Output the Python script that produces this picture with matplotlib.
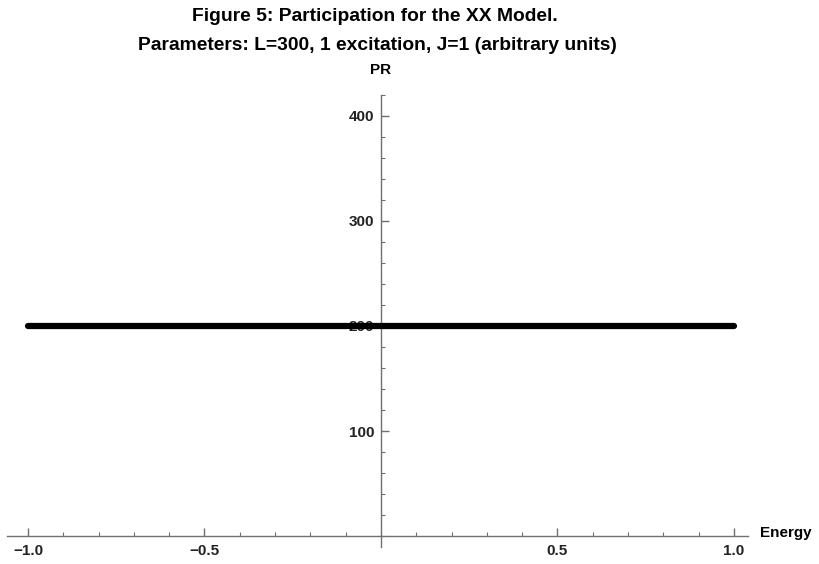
"""
Figure 5: participation ratio for the XX model, L=300, one excitation
"""

import matplotlib.pyplot as plt
from matplotlib.ticker import MultipleLocator

# ---- data ----
energy = [-1.0, 1.0]          # eigen-energies span the band [-1, 1]
pr = [200, 200]               # participation ratio, flat at ~200
x_ticks = [-1.0, -0.5, 0.5, 1.0]
x_tick_labels = ['\u22121.0', '\u22120.5', '0.5', '1.0']
y_ticks = [100, 200, 300, 400]
y_tick_labels = ['100', '200', '300', '400']

plt.rcParams['font.family'] = ['Liberation Sans', 'DejaVu Sans']

fig = plt.figure(figsize=(8.2, 5.64), dpi=100)
ax = fig.add_axes([0.0083, 0.031, 0.904, 0.8006])
ax.set_xlim(-1.06, 1.04)
ax.set_ylim(-10, 420)

# Mathematica-style axes through the origin
axis_col = '#707070'
for side in ['top', 'right']:
    ax.spines[side].set_visible(False)
for side in ['left', 'bottom']:
    ax.spines[side].set_position(('data', 0))
    ax.spines[side].set_color(axis_col)
    ax.spines[side].set_linewidth(1.0)

ax.set_xticks(x_ticks)
ax.set_xticklabels(x_tick_labels)
ax.set_yticks(y_ticks)
ax.set_yticklabels(y_tick_labels)
ax.xaxis.set_minor_locator(MultipleLocator(0.1))
ax.yaxis.set_minor_locator(MultipleLocator(20))
ax.tick_params(which='major', direction='in', length=6, width=1, color=axis_col,
               labelsize=11, pad=6)
ax.tick_params(which='minor', direction='in', length=3, width=0.8, color=axis_col)
ax.tick_params(axis='y', pad=5)
for lab in ax.get_xticklabels() + ax.get_yticklabels():
    lab.set_fontweight('bold')
    lab.set_color('#222222')

ax.plot(energy, pr, color='black', linewidth=4.5, solid_capstyle='round', zorder=3)

ax.text(0, 1.04, 'PR', transform=ax.get_xaxis_transform(), ha='center', va='bottom',
        fontsize=11, fontweight='bold')
ax.text(1.075, 3, 'Energy', transform=ax.transData, ha='left', va='center',
        fontsize=11, fontweight='bold', clip_on=False)

fig.text(0.457, 0.971, 'Figure 5: Participation for the XX Model.', ha='center', va='center',
         fontsize=13.9, fontweight='bold')
fig.text(0.46, 0.92, 'Parameters: L=300, 1 excitation, J=1 (arbitrary units)', ha='center',
         va='center', fontsize=13.9, fontweight='bold')

plt.savefig('out.png', dpi=100)
plt.close()
